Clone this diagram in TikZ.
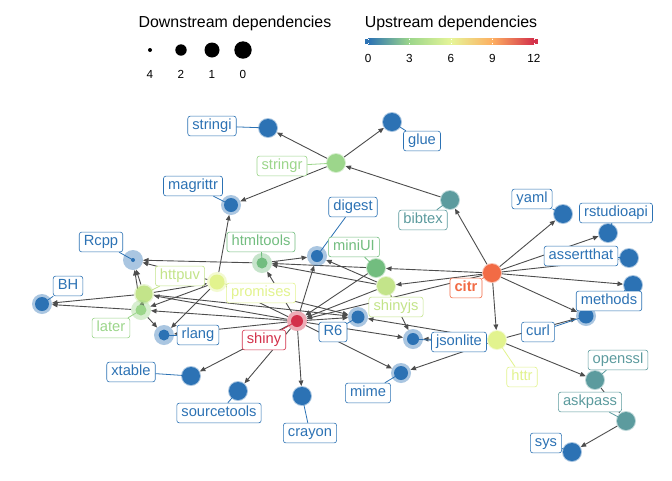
\documentclass[tikz,border=0pt]{standalone}
\usepackage{fontspec}
\setmainfont{Liberation Sans}
\usepackage{tikz}
\usetikzlibrary{arrows.meta}
\usetikzlibrary{positioning}

\definecolor{dep0}{HTML}{2C72B4}
\definecolor{dep1}{HTML}{5C9B9E}
\definecolor{dep2}{HTML}{72BD7F}
\definecolor{dep3}{HTML}{9CD68B}
\definecolor{dep4}{HTML}{C3E48A}
\definecolor{dep5}{HTML}{E2F38E}
\definecolor{dep6}{HTML}{E6F598}
\definecolor{dep9}{HTML}{FDAE61}
\definecolor{dep10}{HTML}{F26B45}
\definecolor{dep12}{HTML}{D3304A}
\definecolor{edgegray}{HTML}{4D4D4D}

\pgfdeclarelayer{bg}
\pgfdeclarelayer{edges}
\pgfsetlayers{bg,edges,main}

\tikzset{
  pkghalo/.style={circle, fill=#1, fill opacity=0.4, minimum size=20pt, inner sep=0pt, outer sep=0pt},
  pkgcore/.style={circle, fill=#1, inner sep=0pt, outer sep=0pt},
  pkglabel/.style={draw=#1, text=#1, fill=white, rounded corners=2.5pt, line width=0.6pt,
    inner xsep=4.6pt, inner ysep=3pt, text height=10.6pt, text depth=3.2pt},
  plainlbl/.style={font=\fontsize{14.7}{16}\selectfont},
  boldlbl/.style={font=\fontsize{14.7}{16}\selectfont\bfseries},
  leader/.style={draw=#1, line width=0.8pt},
  depedge/.style={draw=edgegray, line width=0.9pt, -{Triangle[length=5.5pt,width=4.6pt]}},
  legtitle/.style={font=\fontsize{15.9}{18}\selectfont},
  legtick/.style={font=\fontsize{11.7}{13}\selectfont},
}

% name/x/y/label x/label y/colour/core radius/label style
\def\pkglist{stringi/268/128/212/126/dep0/9/plainlbl,
  glue/392/122/422/141/dep0/9/plainlbl,
  stringr/336/163/282/166/dep3/9/plainlbl,
  magrittr/231/205/193/186/dep0/7/plainlbl,
  digest/317/256/353/207/dep0/6/plainlbl,
  bibtex/450/200/423/220/dep1/9/plainlbl,
  yaml/563/214/532/199/dep0/9/plainlbl,
  rstudioapi/608/233/616/213/dep0/9/plainlbl,
  assertthat/629/258/581/256/dep0/9/plainlbl,
  methods/633/285/609/301/dep0/9/plainlbl,
  curl/586/316/538/332/dep0/7.5/plainlbl,
  citr/492/273/466/288/dep10/9/boldlbl,
  httr/497/340/522/377/dep5/9/plainlbl,
  jsonlite/413/339/459/342/dep0/6/plainlbl,
  mime/401/373/368/393/dep0/7/plainlbl,
  crayon/302/396/310/433/dep0/9/plainlbl,
  sourcetools/238/391/219/413/dep0/9/plainlbl,
  xtable/191/376/131/372/dep0/9/plainlbl,
  shiny/297/321/264/340/dep12/6/plainlbl,
  R6/358/317/333/332/dep0/6.5/plainlbl,
  shinyjs/386/286/396/307/dep4/9/plainlbl,
  miniUI/376/268/354/247/dep2/9/plainlbl,
  htmltools/262/263/261/242/dep2/5.5/plainlbl,
  promises/217/282/261/293/dep5/7.5/plainlbl,
  httpuv/144/294/180/276/dep4/8.5/plainlbl,
  later/141/310/111/328/dep3/5.5/plainlbl,
  Rcpp/133/260/101/242/dep0/2/plainlbl,
  BH/42/304/68/286/dep0/7/plainlbl,
  rlang/164/335/198/335/dep0/5.5/plainlbl,
  openssl/595/380/618/360/dep1/9/plainlbl,
  askpass/626/421/590/402/dep1/9/plainlbl,
  sys/572/452/546/443/dep0/9/plainlbl}

\begin{document}
\begin{tikzpicture}[x=1pt,y=-1pt]
    \useasboundingbox (0,0) rectangle (672,480);
    \begin{pgfonlayer}{bg}
    \fill[white] (0,0) rectangle (672,480);
    \end{pgfonlayer}

    % legend: downstream
    \node[legtitle] (down-title) at (235,23) {Downstream dependencies};
    \foreach \k/\x/\rad in {4/150/2,2/181/5.7,1/212/7.5,0/243/8.7}{
        \node[circle, fill=black, inner sep=0pt, minimum size=\rad*2pt] (down-\k) at (\x,50) {};
        \node[legtick] (down-\k-t) at (\x,74) {\k};
    }

    % legend: upstream
    \node[legtitle] (up-title) at (451,23) {Upstream dependencies};
    \fill[dep0] (365,38.5) rectangle (368,44);
    \shade[left color=dep0, right color=dep3] (368,38.5) rectangle (409.5,44);
    \shade[left color=dep3, right color=dep6] (409.5,38.5) rectangle (451,44);
    \shade[left color=dep6, right color=dep9] (451,38.5) rectangle (492.5,44);
    \shade[left color=dep9, right color=dep12] (492.5,38.5) rectangle (534,44);
    \fill[dep12] (534,38.5) rectangle (538,44);
    \foreach \v in {0,3,6,9,12}{
        \draw[white, line width=0.6pt] (368+13.83*\v,38.5) -- (368+13.83*\v,39.8);
        \draw[white, line width=0.6pt] (368+13.83*\v,42.7) -- (368+13.83*\v,44);
        \node[legtick] (up-\v) at (368+13.83*\v,58) {\v};
    }

    % packages
    \foreach \n/\px/\py/\lx/\ly/\col/\rad/\lbl in \pkglist{
        \node[pkghalo=\col] (\n) at (\px,\py) {};
        \node[pkgcore=\col, minimum size=\rad*2pt] (\n-c) at (\px,\py) {};
    }
    \foreach \n/\px/\py/\lx/\ly/\col/\rad/\lbl in \pkglist{
        \node[pkglabel=\col, \lbl] (\n-l) at (\lx,\ly) {\n};
        \draw[leader=\col] (\n.center) -- (\n-l);
    }

    % dependencies
    \begin{pgfonlayer}{edges}
    \foreach \a/\b in {stringr/stringi, stringr/glue, stringr/magrittr, bibtex/stringr,
        citr/bibtex, citr/yaml, citr/rstudioapi, citr/assertthat, citr/methods, citr/curl,
        citr/httr, citr/miniUI, citr/shinyjs, citr/shiny,
        httr/curl, httr/jsonlite, httr/mime, httr/openssl, httr/R6,
        openssl/askpass, askpass/sys,
        shiny/httpuv, shiny/mime, shiny/jsonlite, shiny/xtable, shiny/digest, shiny/htmltools,
        shiny/R6, shiny/sourcetools, shiny/later, shiny/promises, shiny/crayon, shiny/rlang,
        httpuv/Rcpp, httpuv/R6, httpuv/promises, httpuv/later, httpuv/BH,
        later/Rcpp, later/rlang, later/BH,
        promises/R6, promises/Rcpp, promises/later, promises/rlang, promises/magrittr,
        htmltools/digest, htmltools/Rcpp,
        miniUI/shiny, miniUI/htmltools,
        shinyjs/digest, shinyjs/jsonlite, shinyjs/shiny, shinyjs/htmltools}
        \draw[depedge] (\a) -- (\b);
    \end{pgfonlayer}
\end{tikzpicture}
\end{document}
